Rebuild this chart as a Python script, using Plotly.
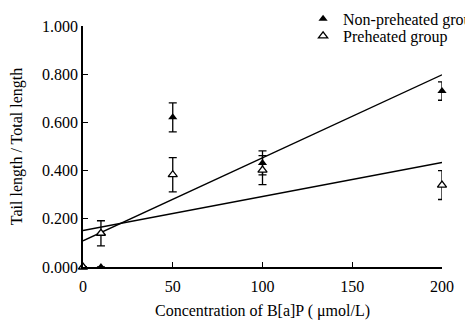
import numpy as np
import plotly.graph_objects as go

conc = [0, 10, 50, 100, 200]
non_pre = [0.0, 0.0, 0.621, 0.432, 0.730]
non_pre_err = [0.0, 0.0, 0.060, 0.050, 0.038]
pre = [0.0, 0.140, 0.383, 0.402, 0.340]
pre_err = [0.0, 0.052, 0.071, 0.060, 0.060]

FONT = "Liberation Serif"
FS = 16

fig = go.Figure()

# regression lines
for ys in (non_pre, pre):
    k, b = np.polyfit(conc, ys, 1)
    xs = [min(conc), max(conc)]
    fig.add_trace(go.Scatter(x=xs, y=[k * v + b for v in xs], mode="lines",
                             line=dict(color="black", width=1.3),
                             showlegend=False, hoverinfo="skip", cliponaxis=False))

fig.add_trace(go.Scatter(
    x=conc, y=non_pre, mode="markers", name="Non-preheated group", legend="legend",
    marker=dict(symbol="triangle-up", size=8, color="black"),
    error_y=dict(type="data", array=non_pre_err, color="black", thickness=1.3, width=4),
    cliponaxis=False))
fig.add_trace(go.Scatter(
    x=conc, y=pre, mode="markers", name="Preheated group", legend="legend2",
    marker=dict(symbol="triangle-up", size=8, color="white",
                line=dict(width=1.3, color="black")),
    error_y=dict(type="data", array=pre_err, color="black", thickness=1.3, width=4),
    cliponaxis=False))

leg_common = dict(x=0.613, xanchor="left", yanchor="top", bgcolor="rgba(0,0,0,0)",
                  font=dict(family=FONT, size=FS), itemwidth=30)

# the page body has an 8px margin, so the figure is 8px smaller than the window
fig.update_layout(
    width=465, height=312,
    margin=dict(l=75, r=31, t=18, b=53, autoexpand=False),
    paper_bgcolor="white", plot_bgcolor="white",
    font=dict(family=FONT, size=FS, color="black"),
    legend=dict(y=1.10, **leg_common),
    legend2=dict(y=1.029, **leg_common),
    xaxis=dict(range=[0, 200], tickvals=[0, 50, 100, 150, 200],
               showline=True, linecolor="black", linewidth=1.5,
               ticks="inside", ticklen=5, tickcolor="black", tickwidth=1.3,
               showgrid=False, zeroline=False, automargin=False,
               ticklabelstandoff=4,
               tickfont=dict(family=FONT, size=FS),
               title=dict(text="Concentration of B[a]P ( \u03bcmol/L)", standoff=12,
                          font=dict(family=FONT, size=FS))),
    yaxis=dict(range=[0, 1.0], tickvals=[0, 0.2, 0.4, 0.6, 0.8, 1.0], tickformat=".3f",
               showline=True, linecolor="black", linewidth=1.5,
               ticks="inside", ticklen=5, tickcolor="black", tickwidth=1.3,
               showgrid=False, zeroline=False, automargin=False,
               tickfont=dict(family=FONT, size=FS),
               title=dict(text="Tail length / Total length", standoff=16,
                          font=dict(family=FONT, size=FS))),
)

fig.write_html("out.html")
